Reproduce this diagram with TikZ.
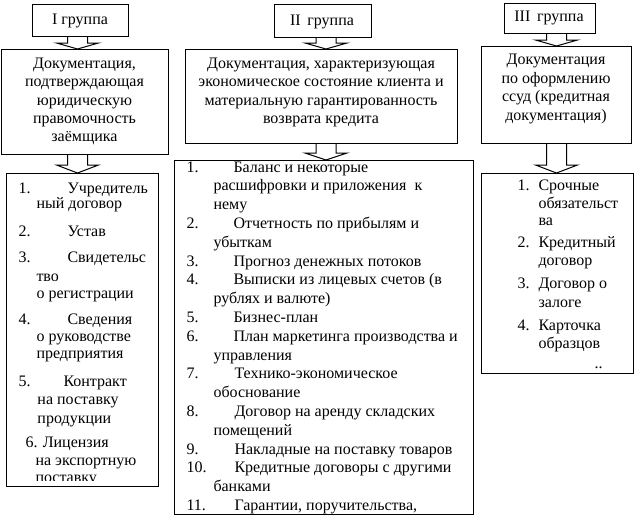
\documentclass[tikz,border=0pt]{standalone}
\usepackage{fontspec}
\setmainfont{Liberation Serif}
\newcommand\dfont{\fontsize{16}{18.4}\selectfont}
\begin{document}
\begin{tikzpicture}[x=1pt,y=-1pt,line width=1pt,
  box/.style={draw,fill=white,inner sep=0,anchor=north west},
  ctext/.style={align=center,inner sep=0,font=\dfont},
  lt/.style={anchor=base west,inner sep=0,font=\dfont},
  barrow/.style={draw,fill=white,line join=miter}]
\useasboundingbox (0,0) rectangle (635,531);
% ---- block arrows (drawn first, boxes cover them)
\newcommand\blockarrow[5]{% cx, ytop, ybase, ytip, name
  \draw[barrow] (#1-10,#2) -- (#1-10,#3) -- (#1-21,#3) -- (#1,#4) -- (#1+21,#3) -- (#1+10,#3) -- (#1+10,#2);
  \coordinate (#5) at (#1,#4);}
\blockarrow{77.5}{36}{43}{49}{a1}
\blockarrow{77.5}{154}{165}{173}{a2}
\blockarrow{326}{37}{43}{49}{b1}
\blockarrow{326}{143}{153}{160}{b2}
\blockarrow{556.5}{33}{40}{46}{c1}
\blockarrow{556.5}{143}{165}{173}{c2}
% ---- header boxes
\node[box,minimum width=96,minimum height=32] (h1) at (32,4) {};
\node[ctext] (h1t) at (80,21) {I группа};
\node[box,minimum width=97,minimum height=33] (h2) at (274,4) {};
\node[ctext] (h2t) at (322,22) {II\, группа};
\node[box,minimum width=91,minimum height=30] (h3) at (504,3) {};
\node[ctext] (h3t) at (549,18) {III\, группа};
% ---- description boxes
\node[box,minimum width=167,minimum height=105] (d1) at (1,49) {};
\node[ctext] (d1t) at (84.5,101.5) {Документация,\\подтверждающая\\юридическую\\правомочность\\заёмщика};
\node[box,minimum width=272,minimum height=94] (d2) at (185,49) {};
\node[ctext] (d2t) at (321,92.5) {Документация, характеризующая\\экономическое состояние клиента и\\материальную гарантированность\\возврата кредита};
\node[box,minimum width=150,minimum height=97] (d3) at (481,46) {};
\node[ctext] (d3t) at (556,89) {Документация\\по оформлению\\ссуд (кредитная\\документация)};
% ---- list boxes
\node[box,minimum width=152,minimum height=313] (l1) at (6,173) {};
\node[box,minimum width=299,minimum height=354] (l2) at (174,160) {};
\node[box,minimum width=152,minimum height=200] (l3) at (481,173) {};
% ---- list 1
\begin{scope}
\clip (6,173) rectangle (158,480);
\node[lt] (p1n) at (18,193) {1.};
\node[lt] (p1a) at (67,193) {Учредитель};
\node[lt] (p1b) at (36,208) {ный договор};
\node[lt] (p2n) at (18,236) {2.};
\node[lt] (p2a) at (67,236) {Устав};
\node[lt] (p3n) at (18,262) {3.};
\node[lt] (p3a) at (67,262) {Свидетельс};
\node[lt] (p3b) at (36,281) {тво};
\node[lt] (p3c) at (36,298) {о регистрации};
\node[lt] (p4n) at (18,324) {4.};
\node[lt] (p4a) at (67,324) {Сведения};
\node[lt] (p4b) at (36,341) {о руководстве};
\node[lt] (p4c) at (36,358) {предприятия};
\node[lt] (p5n) at (18,386) {5.};
\node[lt] (p5a) at (63,386) {Контракт};
\node[lt] (p5b) at (37,404) {на поставку};
\node[lt] (p5c) at (37,423) {продукции};
\node[lt] (p6a) at (25,447) {6. Лицензия};
\node[lt] (p6b) at (35,465) {на экспортную};
\node[lt] (p6c) at (35,482) {поставку};
\end{scope}
% ---- list 2
\foreach \k/\num/\txt/\xx in {
  0/1./{Баланс и некоторые}/233,
  1//{расшифровки и приложения\ \ к}/213,
  2//{нему}/213,
  3/2./{Отчетность по прибылям и}/233,
  4//{убыткам}/213,
  5/3./{Прогноз денежных потоков}/233,
  6/4./{Выписки из лицевых счетов (в}/233,
  7//{рублях и валюте)}/213,
  8/5./{Бизнес-план}/233,
  9/6./{План маркетинга производства и}/233,
  10//{управления}/213,
  11/7./{Технико-экономическое}/234,
  12//{обоснование}/213,
  13/8./{Договор на аренду складских}/234,
  14//{помещений}/213,
  15/9./{Накладные на поставку товаров}/234,
  16/10./{Кредитные договоры с другими}/234,
  17//{банками}/213,
  18/11./{Гарантии, поручительства,}/234}{
  \node[lt] (q\k n) at (186,{172+18.8*\k}) {\num};
  \node[lt] (q\k) at (\xx,{172+18.8*\k}) {\txt};
}
% ---- list 3
\node[lt] (r1n) at (517,190) {1.};
\node[lt] (r1a) at (538,190) {Срочные};
\node[lt] (r1b) at (538,208) {обязательст};
\node[lt] (r1c) at (538,225) {ва};
\node[lt] (r2n) at (517,247) {2.};
\node[lt] (r2a) at (538,247) {Кредитный};
\node[lt] (r2b) at (538,265) {договор};
\node[lt] (r3n) at (517,288) {3.};
\node[lt] (r3a) at (538,288) {Договор о};
\node[lt] (r3b) at (538,307) {залоге};
\node[lt] (r4n) at (517,330) {4.};
\node[lt] (r4a) at (538,330) {Карточка};
\node[lt] (r4b) at (538,348) {образцов};
\node[lt] (r4c) at (594,368) {..};
\end{tikzpicture}
\end{document}
